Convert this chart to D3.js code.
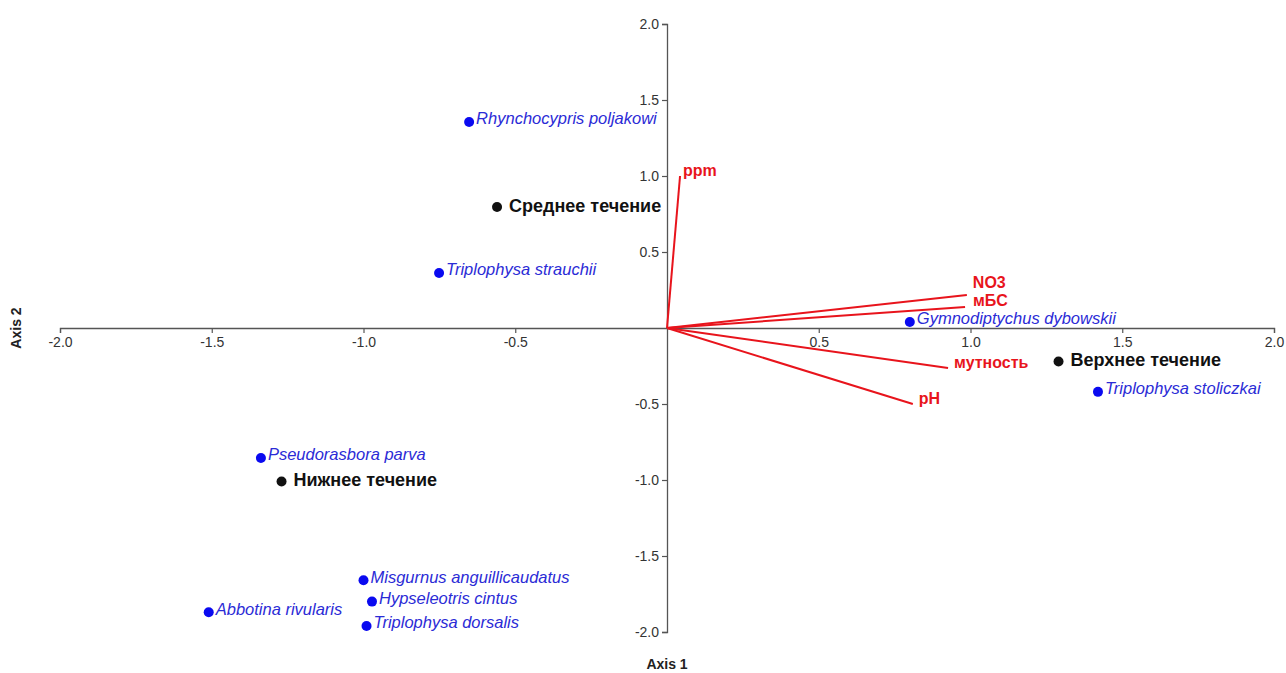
<!DOCTYPE html>
<html>
<head>
<meta charset="utf-8">
<script src="https://cdn.jsdelivr.net/npm/d3@7"></script>
<style>
  body { margin: 0; background: #fff; }
  svg { display: block; font-family: "Liberation Sans", Arial, sans-serif; }
</style>
</head>
<body>
<svg id="chart" width="1286" height="673"></svg>
<script>
// Species scores
const speciesNames = ["Rhynchocypris poljakowi", "Triplophysa strauchii", "Gymnodiptychus dybowskii",
  "Triplophysa stoliczkai", "Pseudorasbora parva", "Misgurnus anguillicaudatus",
  "Hypseleotris cintus", "Triplophysa dorsalis", "Abbotina rivularis"];
const speciesX = [-0.652, -0.751, 0.80, 1.42, -1.338, -1.0, -0.972, -0.99, -1.51];
const speciesY = [1.355, 0.362, 0.04, -0.42, -0.855, -1.66, -1.80, -1.96, -1.87];

// River section scores
const siteNames = ["Среднее течение", "Верхнее течение", "Нижнее течение"];
const siteX = [-0.56, 1.29, -1.27];
const siteY = [0.796, -0.22, -1.01];

// Environmental vectors
const envNames = ["ppm", "NO3", "мБС", "мутность", "pH"];
const envX = [0.043, 0.988, 0.982, 0.926, 0.81];
const envY = [1.0, 0.217, 0.138, -0.263, -0.50];

const axisTicks = [-2.0, -1.5, -1.0, -0.5, 0.5, 1.0, 1.5, 2.0];

const svg = d3.select("#chart");
const x = d3.scaleLinear().domain([-2, 2]).range([60, 1274]);
const y = d3.scaleLinear().domain([-2, 2]).range([632, 24]);

// one decimal, plain hyphen for negatives
const fmt = v => v.toFixed(1);

// Horizontal axis through the origin
const gx = svg.append("g").attr("transform", `translate(0,${y(0)})`)
  .call(d3.axisBottom(x).tickValues(axisTicks).tickFormat(fmt).tickSize(5).tickPadding(4));
// Vertical axis through the origin
const gy = svg.append("g").attr("transform", `translate(${x(0)},0)`)
  .call(d3.axisLeft(y).tickValues(axisTicks).tickFormat(fmt).tickSize(5).tickPadding(3));

[gx, gy].forEach(g => {
  g.select(".domain").attr("stroke", "#555").attr("stroke-width", 1.3);
  g.selectAll(".tick line").attr("stroke", "#555").attr("stroke-width", 1.2);
  g.selectAll(".tick text").attr("fill", "#333").style("font-size", "14px")
    .style("font-family", "'Liberation Sans', Arial, sans-serif");
});

// Axis titles
svg.append("text").attr("x", x(0)).attr("y", 669).attr("text-anchor", "middle")
  .style("font-size", "14px").style("font-weight", "bold").attr("fill", "#222").text("Axis 1");
svg.append("text").attr("transform", `translate(21,${y(0)}) rotate(-90)`).attr("text-anchor", "middle")
  .style("font-size", "14px").style("font-weight", "bold").attr("fill", "#222").text("Axis 2");

// Environmental vectors
const env = envNames.map((n, i) => ({ name: n, x: envX[i], y: envY[i] }));
const envLabelOffset = {
  "ppm": [3, -4], "NO3": [6, -11], "мБС": [8, -5], "мутность": [6, -4], "pH": [6, -4]
};
svg.append("g").selectAll("line").data(env).join("line")
  .attr("x1", x(0)).attr("y1", y(0))
  .attr("x2", d => x(d.x)).attr("y2", d => y(d.y))
  .attr("stroke", "#e8141c").attr("stroke-width", 2);
svg.append("g").selectAll("text").data(env).join("text")
  .attr("x", d => x(d.x) + envLabelOffset[d.name][0])
  .attr("y", d => y(d.y) + envLabelOffset[d.name][1])
  .attr("dominant-baseline", "middle")
  .style("font-size", "16px").style("font-weight", "bold").attr("fill", "#e8141c")
  .text(d => d.name);

// Species
const species = speciesNames.map((n, i) => ({ name: n, x: speciesX[i], y: speciesY[i] }));
const sg = svg.append("g");
sg.selectAll("circle").data(species).join("circle")
  .attr("cx", d => x(d.x)).attr("cy", d => y(d.y)).attr("r", 5).attr("fill", "#0a0af0");
sg.selectAll("text").data(species).join("text")
  .attr("x", d => x(d.x) + 7).attr("y", d => y(d.y) - 2)
  .attr("dominant-baseline", "middle")
  .style("font-size", "16.5px").style("font-style", "italic").attr("fill", "#2b2bd6")
  .text(d => d.name);

// River sections
const sites = siteNames.map((n, i) => ({ name: n, x: siteX[i], y: siteY[i] }));
const stg = svg.append("g");
stg.selectAll("circle").data(sites).join("circle")
  .attr("cx", d => x(d.x)).attr("cy", d => y(d.y)).attr("r", 5).attr("fill", "#111");
stg.selectAll("text").data(sites).join("text")
  .attr("x", d => x(d.x) + 12).attr("y", d => y(d.y))
  .attr("dominant-baseline", "middle")
  .style("font-size", "18px").style("font-weight", "bold").attr("fill", "#111")
  .text(d => d.name);
</script>
</body>
</html>
